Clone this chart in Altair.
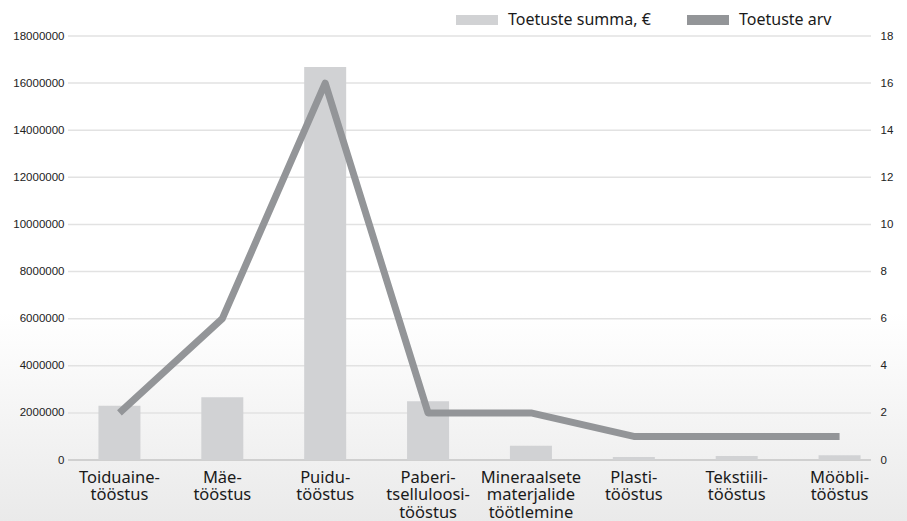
import altair as alt
import pandas as pd

# Industry branches (line breaks marked with "|") and the two series
categories = [
    "Toiduaine-|tööstus",
    "Mäe-|tööstus",
    "Puidu-|tööstus",
    "Paberi-|tselluloosi-|tööstus",
    "Mineraalsete|materjalide|töötlemine",
    "Plasti-|tööstus",
    "Tekstiili-|tööstus",
    "Mööbli-|tööstus",
]
support_sum = [2300000, 2660000, 16680000, 2490000, 600000, 130000, 170000, 200000]
support_count = [2, 6, 16, 2, 2, 1, 1, 1]
series_names = ["Toetuste summa, €", "Toetuste arv"]
sum_ticks = list(range(0, 18000001, 2000000))
count_ticks = list(range(0, 19, 2))

df = pd.DataFrame({"cat": categories, "summa": support_sum, "arv": support_count})
grid_df = pd.DataFrame({"v": sum_ticks})

W, H = 803, 424
PAD_L, PAD_T, PAD_R, PAD_B = 68, 36, 36, 61
LABEL_FONT = "Noto Sans"
TICK_FONT = "Liberation Sans"

sum_scale = alt.Scale(domain=[0, 18000000], nice=False)

x_enc = alt.X(
    "cat:N",
    sort=categories,
    scale=alt.Scale(range=[0, 823], paddingInner=0.59, paddingOuter=0.295),
    axis=alt.Axis(
        title=None,
        labelExpr="split(datum.label, '|')",
        labelFont=LABEL_FONT,
        labelFontSize=16.5,
        labelLineHeight=17.5,
        labelColor="#1a1a1a",
        labelAngle=0,
        labelPadding=9,
        labelBaseline="top",
        labelOverlap=False,
        domain=False,
        ticks=False,
        zindex=1,
    ),
)

# soft grey fade towards the bottom of the figure
background = alt.Chart(alt.Data(values=[{}])).mark_rect(
    color=alt.LinearGradient(
        gradient="linear",
        x1=0, x2=0, y1=0, y2=1,
        stops=[
            alt.GradientStop(color="#ffffff", offset=0),
            alt.GradientStop(color="#ffffff", offset=0.6),
            alt.GradientStop(color="#eaeaea", offset=1),
        ],
    )
).encode(
    x=alt.value(-PAD_L), x2=alt.value(W + PAD_R),
    y=alt.value(-PAD_T), y2=alt.value(H + PAD_B),
)

# horizontal gridlines at the left-axis ticks, kept behind the bars
grid = alt.Chart(grid_df).mark_rule().encode(
    y=alt.Y("v:Q", scale=sum_scale, axis=None),
    color=alt.condition("datum.v === 0", alt.value("#d0d0d0"), alt.value("#e2e2e2")),
    strokeWidth=alt.condition("datum.v === 0", alt.value(2), alt.value(1.5)),
)

bars = alt.Chart(df).mark_bar(size=42).encode(
    x=x_enc,
    y=alt.Y(
        "summa:Q",
        scale=sum_scale,
        axis=alt.Axis(
            orient="left",
            title=None,
            values=sum_ticks,
            format="d",
            labelFont=TICK_FONT,
            labelFontSize=11.5,
            labelColor="#222222",
            labelPadding=4,
            domain=False,
            ticks=False,
            grid=False,
            zindex=1,
        ),
    ),
    color=alt.Color(
        "series:N",
        scale=alt.Scale(domain=series_names, range=["#d1d2d4", "#939598"]),
        legend=alt.Legend(
            title=None,
            orient="none",
            legendX=388,
            legendY=-37,
            direction="horizontal",
            columns=2,
            columnPadding=36,
            symbolType="M-1,-0.24L1,-0.24L1,0.24L-1,0.24Z",
            symbolSize=1764,
            symbolStrokeWidth=0,
            labelOffset=10,
            labelFont=LABEL_FONT,
            labelFontSize=16,
            labelColor="#1a1a1a",
        ),
    ),
).transform_calculate(series="'Toetuste summa, €'")

line = alt.Chart(df).mark_line(
    color="#939598", strokeWidth=7, strokeJoin="round", strokeCap="butt"
).encode(
    x=x_enc,
    y=alt.Y(
        "arv:Q",
        scale=alt.Scale(domain=[0, 18], nice=False),
        axis=alt.Axis(
            orient="right",
            title=None,
            values=count_ticks,
            labelFont=TICK_FONT,
            labelFontSize=11.5,
            labelColor="#222222",
            labelPadding=9,
            domain=False,
            ticks=False,
            grid=False,
            zindex=1,
        ),
    ),
)

chart = alt.layer(background, grid, bars, line).resolve_scale(y="independent").properties(
    width=W,
    height=H,
    autosize=alt.AutoSizeParams(type="none"),
    padding={"left": PAD_L, "top": PAD_T, "right": PAD_R, "bottom": PAD_B},
).configure_view(stroke=None)

chart.save("out.html", embed_options={"renderer": "svg", "actions": False})
